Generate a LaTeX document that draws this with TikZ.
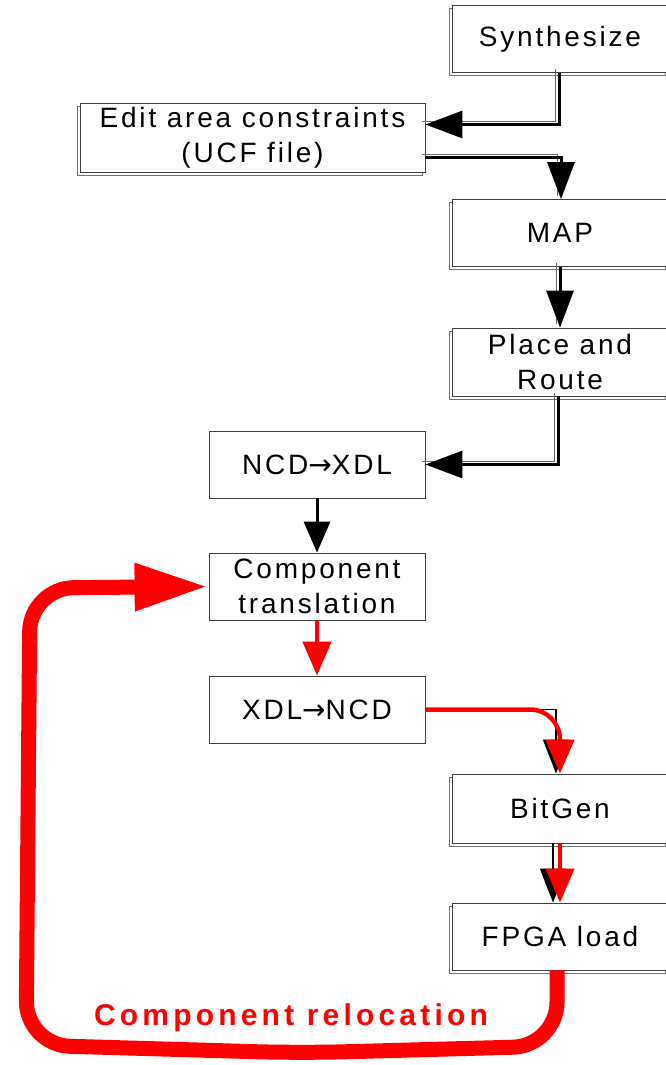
\documentclass[tikz,border=0pt]{standalone}
\usepackage{fontspec}
\usepackage{xcolor}
\usepackage{tikz}
\usetikzlibrary{arrows.meta, positioning, calc, shadows}
\setmainfont{Liberation Sans}
\newfontfamily\stagefont[LetterSpace=10]{Liberation Sans}
\newfontfamily\loopfont[LetterSpace=14]{Liberation Sans}
\definecolor{loopred}{RGB}{255, 0, 0}

\tikzset{
    stage/.style={draw=black!75, line width=0.8pt, fill=white, minimum width=216pt,
        minimum height=67pt, inner sep=0pt, align=center,
        font=\stagefont\fontsize{28}{35}\selectfont},
    shaded/.style={copy shadow={shadow xshift=-2.5pt, shadow yshift=-3pt, draw=black!55, fill=white}},
    link/.style={line width=3pt, -{Triangle[length=37pt,width=27pt]},
        preaction={draw=black!60, line width=0.8pt, arrows=-, transform canvas={shift={(-3.5pt,3.5pt)}}}},
    redlink/.style={draw=loopred, line width=4.5pt, -{Triangle[length=34pt,width=28pt]}},
    oldlink/.style={line width=1.5pt, -{Triangle[length=34pt,width=26pt]}},
    relocloop/.style={draw=loopred, line width=15pt, rounded corners=44pt, -{Triangle[length=74pt,width=44pt]}}
}

\begin{document}
\begin{tikzpicture}[x=1pt, y=-1pt]
    \useasboundingbox (0,0) rectangle (666,1065);

    % design flow
    \node[stage, shaded] (synth) at (560,39) {Synthesize};
    \node[stage, shaded, minimum width=345pt, minimum height=69pt] (edit) at (252.5,137.5) {Edit area constraints\\(UCF file)};
    \node[stage, shaded] (map) at (560,233) {MAP};
    \node[stage, shaded, minimum height=68pt] (pnr) at (560,362) {Place and\\Route};
    \node[stage] (ncdxdl) at (317,464.5) {NCD{\fontspec{DejaVu Sans}→}XDL};
    \node[stage] (comp) at (317,586.5) {Component\\translation};
    \node[stage] (xdlncd) at (317,709.5) {XDL{\fontspec{DejaVu Sans}→}NCD};
    \node[stage, shaded, minimum height=69pt] (bitgen) at (560,808.5) {BitGen};
    \node[stage, shaded] (fpga) at (560,936.5) {FPGA load};

    % black connectors
    \draw[link] ([xshift=-1pt]synth.south) |- ([yshift=13pt]edit.east);
    \draw[link] ([yshift=-20pt]edit.east) -| ([xshift=1pt]map.north);
    \draw[link] (map.south) -- (pnr.north);
    \draw[link] ([xshift=-2pt]pnr.south) |- (ncdxdl.east);
    \draw[line width=3pt, -{Triangle[length=31pt,width=26pt]}] (ncdxdl.south) -- (comp.north);

    % old connectors under the red ones
    \draw[oldlink] (xdlncd.east) -| ([xshift=-4pt]bitgen.north);
    \draw[oldlink] ([xshift=-7pt]bitgen.south) -- ([xshift=-7pt]fpga.north);

    % red connectors
    \draw[redlink] (comp.south) -- (xdlncd.north);
    \draw[redlink, rounded corners=30pt] (xdlncd.east) -| (bitgen.north);
    \draw[redlink] (bitgen.south) -- (fpga.north);

    % relocation loop
    \draw[relocloop] ([xshift=-3pt]fpga.south) -- (557,1046) -- (300,1053) -- (26,1045) -- (30,588) -- (comp.west);
    \node[font=\loopfont\bfseries\fontsize{30}{36}\selectfont, text=loopred] (reloc) at (291,1018) {Component relocation};
\end{tikzpicture}
\end{document}
